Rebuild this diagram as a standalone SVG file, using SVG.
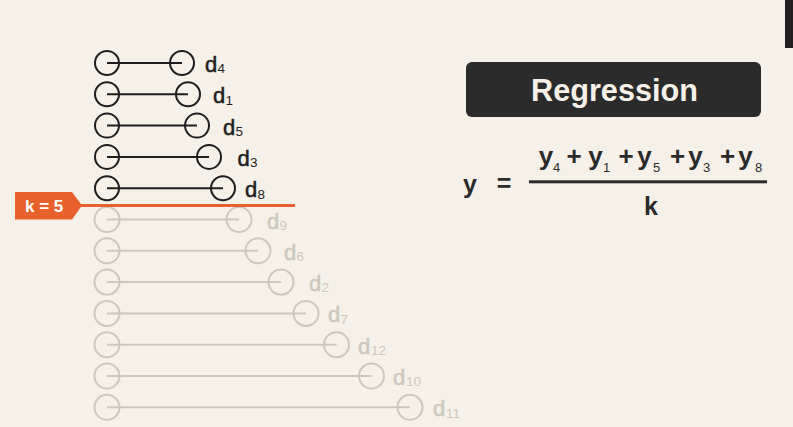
<svg xmlns="http://www.w3.org/2000/svg" width="793" height="427" viewBox="0 0 793 427">
<style>
.bg{fill:#f5f1e8}
.k circle{fill:none;stroke:#1e1e1e;stroke-width:2}
.k line{stroke:#1e1e1e;stroke-width:2}
.g circle{fill:none;stroke:#cdc8be;stroke-width:2}
.g line{stroke:#cdc8be;stroke-width:2}
.lbl{font-family:"Liberation Sans",Arial,sans-serif;font-size:22px;stroke-width:0.5}
.sub{font-family:"Liberation Sans",Arial,sans-serif;font-size:13.5px}
.k text{fill:#1e1e1e}
.k .lbl{stroke:#1e1e1e}
.g text{fill:#cdc8be}
.g .lbl{stroke:#cdc8be}
.f{font-family:"Liberation Sans",Arial,sans-serif;font-weight:bold;fill:#2a2a2a}
.fs{font-family:"Liberation Sans",Arial,sans-serif;font-weight:normal;font-size:13px;fill:#2a2a2a}
</style>
<rect class="bg" x="0" y="0" width="793" height="427"/>
<rect x="785" y="0" width="8" height="48" fill="#231f20"/>

<g id="rows">
<g id="d4" class="k"><line x1="107" y1="63" x2="182" y2="63"/><circle cx="107" cy="63" r="12"/><circle cx="182" cy="63" r="12"/><text class="lbl" x="205" y="72">d</text><text class="sub" x="217.5" y="73.3">4</text></g>
<g id="d1" class="k"><line x1="107" y1="94.3" x2="188" y2="94.3"/><circle cx="107" cy="94.3" r="12"/><circle cx="188" cy="94.3" r="12"/><text class="lbl" x="213" y="103.3">d</text><text class="sub" x="225.5" y="104.6">1</text></g>
<g id="d5" class="k"><line x1="107" y1="125.6" x2="197" y2="125.6"/><circle cx="107" cy="125.6" r="12"/><circle cx="197" cy="125.6" r="12"/><text class="lbl" x="223" y="134.6">d</text><text class="sub" x="235.5" y="135.9">5</text></g>
<g id="d3" class="k"><line x1="107" y1="156.9" x2="209" y2="156.9"/><circle cx="107" cy="156.9" r="12"/><circle cx="209" cy="156.9" r="12"/><text class="lbl" x="237.5" y="165.9">d</text><text class="sub" x="250" y="167.2">3</text></g>
<g id="d8" class="k"><line x1="107" y1="188.2" x2="223" y2="188.2"/><circle cx="107" cy="188.2" r="12"/><circle cx="223" cy="188.2" r="12"/><text class="lbl" x="245" y="197.2">d</text><text class="sub" x="257.5" y="198.5">8</text></g>
<g id="d9" class="g"><line x1="107" y1="219.5" x2="239" y2="219.5"/><circle cx="107" cy="219.5" r="12.5"/><circle cx="239" cy="219.5" r="12.5"/><text class="lbl" x="267" y="228.5">d</text><text class="sub" x="279.5" y="229.8">9</text></g>
<g id="d6" class="g"><line x1="107" y1="250.8" x2="258" y2="250.8"/><circle cx="107" cy="250.8" r="12.5"/><circle cx="258" cy="250.8" r="12.5"/><text class="lbl" x="284" y="259.8">d</text><text class="sub" x="296.5" y="261.1">6</text></g>
<g id="d2" class="g"><line x1="107" y1="282.1" x2="281" y2="282.1"/><circle cx="107" cy="282.1" r="12.5"/><circle cx="281" cy="282.1" r="12.5"/><text class="lbl" x="309" y="291.1">d</text><text class="sub" x="321.5" y="292.4">2</text></g>
<g id="d7" class="g"><line x1="107" y1="313.4" x2="306" y2="313.4"/><circle cx="107" cy="313.4" r="12.5"/><circle cx="306" cy="313.4" r="12.5"/><text class="lbl" x="328" y="322.4">d</text><text class="sub" x="340.5" y="323.7">7</text></g>
<g id="d12" class="g"><line x1="107" y1="344.7" x2="336.5" y2="344.7"/><circle cx="107" cy="344.7" r="12.5"/><circle cx="336.5" cy="344.7" r="12.5"/><text class="lbl" x="358" y="353.7">d</text><text class="sub" x="371" y="355">12</text></g>
<g id="d10" class="g"><line x1="107" y1="376" x2="371.5" y2="376"/><circle cx="107" cy="376" r="12.5"/><circle cx="371.5" cy="376" r="12.5"/><text class="lbl" x="393" y="385">d</text><text class="sub" x="406" y="386.3">10</text></g>
<g id="d11" class="g"><line x1="107" y1="407.3" x2="410" y2="407.3"/><circle cx="107" cy="407.3" r="12.5"/><circle cx="410" cy="407.3" r="12.5"/><text class="lbl" x="433" y="416.3">d</text><text class="sub" x="446" y="417.6">11</text></g>
</g>

<g id="kcut">
<line x1="80" y1="205.5" x2="295" y2="205.5" stroke="#e8602c" stroke-width="3"/>
<polygon points="15,192 72,192 82,205.5 72,219.5 15,219.5" fill="#e8602c"/>
<text x="25" y="211.7" font-family="'Liberation Sans',Arial,sans-serif" font-weight="bold" font-size="17" fill="#ffffff">k = 5</text>
</g>

<g id="title">
<rect x="466" y="62" width="295" height="55" rx="6" fill="#2b2b2b"/>
<text x="614.5" y="101" text-anchor="middle" font-family="'Liberation Sans',Arial,sans-serif" font-weight="bold" font-size="32" fill="#f5f1e8" textLength="167" lengthAdjust="spacingAndGlyphs">Regression</text>
</g>

<g id="formula">
<text class="f" x="470" y="193" font-size="25" text-anchor="middle">y</text>
<text class="f" x="504" y="192" font-size="25" text-anchor="middle">=</text>
<rect x="529" y="180.3" width="238" height="3" fill="#2a2a2a"/>
<text class="f" x="651" y="215" font-size="25" text-anchor="middle">k</text>
<g font-size="26" text-anchor="middle">
<text class="f" x="546" y="165.3">y</text>
<text class="f" x="574" y="165.3">+</text>
<text class="f" x="595.5" y="165.3">y</text>
<text class="f" x="626" y="165.3">+</text>
<text class="f" x="644.5" y="165.3">y</text>
<text class="f" x="677.5" y="165.3">+</text>
<text class="f" x="695.5" y="165.3">y</text>
<text class="f" x="727.5" y="165.3">+</text>
<text class="f" x="745.5" y="165.3">y</text>
</g>
<text class="fs" x="553" y="171.7">4</text>
<text class="fs" x="603" y="171.7">1</text>
<text class="fs" x="653" y="171.7">5</text>
<text class="fs" x="703" y="171.7">3</text>
<text class="fs" x="755" y="171.7">8</text>
</g>
</svg>
